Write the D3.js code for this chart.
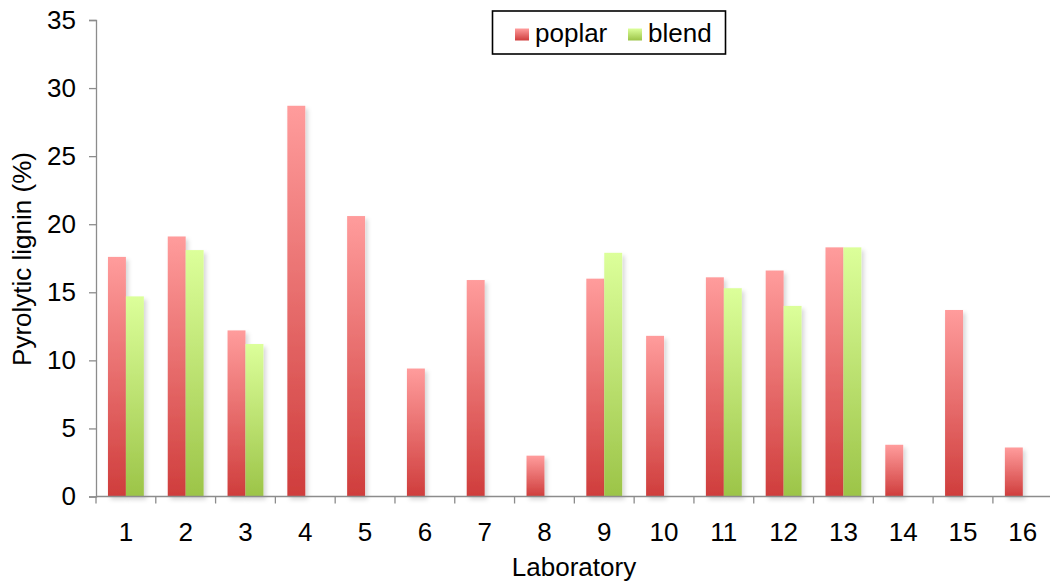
<!DOCTYPE html>
<html>
<head>
<meta charset="utf-8">
<script src="https://cdn.jsdelivr.net/npm/d3@7/dist/d3.min.js"></script>
<style>
  html, body { margin: 0; padding: 0; background: #fff; }
  svg { display: block; font-family: "Liberation Sans", Arial, sans-serif; }
</style>
</head>
<body>
<svg id="chart" width="1050" height="582"></svg>
<script>
// Laboratory results for pyrolytic lignin content (%)
const labs = ["1","2","3","4","5","6","7","8","9","10","11","12","13","14","15","16"];
const seriesNames = ["poplar", "blend"];
const poplar = [17.6, 19.1, 12.2, 28.7, 20.6, 9.4, 15.9, 3.0, 16.0, 11.8, 16.1, 16.6, 18.3, 3.8, 13.7, 3.6];
const blend  = [14.7, 18.1, 11.2, null, null, null, null, null, 17.9, null, 15.3, 14.0, 18.3, null, null, null];
const yTicks = [0, 5, 10, 15, 20, 25, 30, 35];

const svg = d3.select("#chart");
const axisColor = "#8c8c8c";
const fontSize = 26;

const x0 = d3.scaleBand().domain(labs).range([96, 1052.7]).paddingInner(0).paddingOuter(0);
const bw = x0.bandwidth();
const x1 = d3.scaleBand().domain(seriesNames).range([0.2 * bw, 0.8 * bw]);
const y = d3.scaleLinear().domain([0, 35]).range([496.5, 20]);

// gradients and soft shadow
const defs = svg.append("defs");
const grads = {
  poplar: ["#ff9c9c", "#cf3d3c"],
  blend:  ["#dcff9a", "#9cc448"]
};
Object.entries(grads).forEach(([k, c]) => {
  const g = defs.append("linearGradient").attr("id", "g-" + k)
    .attr("x1", 0).attr("y1", 0).attr("x2", 0).attr("y2", 1);
  g.append("stop").attr("offset", "0%").attr("stop-color", c[0]);
  g.append("stop").attr("offset", "100%").attr("stop-color", c[1]);
});
const f = defs.append("filter").attr("id", "shadow")
  .attr("x", "-50%").attr("y", "-10%").attr("width", "200%").attr("height", "130%");
f.append("feDropShadow").attr("dx", 2.5).attr("dy", 3).attr("stdDeviation", 2.2)
  .attr("flood-color", "#000").attr("flood-opacity", 0.16);

// bars
const rows = labs.map((lab, i) => ({ lab, poplar: poplar[i], blend: blend[i] }));
const groups = svg.append("g").selectAll("g").data(rows).join("g")
  .attr("transform", d => `translate(${x0(d.lab)},0)`);
groups.selectAll("rect")
  .data(d => seriesNames.filter(s => d[s] != null).map(s => ({ s, v: d[s] })))
  .join("rect")
  .attr("x", d => x1(d.s))
  .attr("width", x1.bandwidth())
  .attr("y", d => y(d.v))
  .attr("height", d => y(0) - y(d.v))
  .attr("fill", d => `url(#g-${d.s})`)
  .attr("filter", "url(#shadow)");

// y axis
const yAxis = svg.append("g").attr("transform", "translate(96,0)")
  .call(d3.axisLeft(y).tickValues(yTicks).tickSize(7).tickPadding(13).tickFormat(d3.format("d")));
yAxis.select(".domain").attr("stroke", axisColor).attr("stroke-width", 1.3);
yAxis.selectAll(".tick line").attr("stroke", axisColor).attr("stroke-width", 1.3);
yAxis.selectAll(".tick text").attr("font-size", fontSize).attr("fill", "#000")
  .attr("font-family", "'Liberation Sans', Arial, sans-serif");

// x axis: ticks sit between categories
const xAxis = svg.append("g").attr("transform", `translate(0,${y(0)})`);
xAxis.append("line").attr("x1", 96).attr("x2", 1052.7).attr("stroke", axisColor).attr("stroke-width", 1.3);
xAxis.selectAll("line.tk").data(labs.concat(["end"])).join("line").attr("class", "tk")
  .attr("x1", (d, i) => 96 + i * bw).attr("x2", (d, i) => 96 + i * bw)
  .attr("y1", 0).attr("y2", 7).attr("stroke", axisColor).attr("stroke-width", 1.3);
xAxis.selectAll("text").data(labs).join("text")
  .attr("x", d => x0(d) + bw / 2).attr("y", 44)
  .attr("text-anchor", "middle").attr("font-size", fontSize).attr("fill", "#000")
  .text(d => d);

// axis titles
svg.append("text").attr("x", 574).attr("y", 576).attr("text-anchor", "middle")
  .attr("font-size", fontSize).text("Laboratory");
svg.append("text").attr("transform", "translate(31,259) rotate(-90)")
  .attr("text-anchor", "middle").attr("font-size", fontSize).text("Pyrolytic lignin (%)");

// legend
const lg = svg.append("g");
lg.append("rect").attr("x", 492.5).attr("y", 11).attr("width", 233).attr("height", 43)
  .attr("fill", "#fff").attr("stroke", "#000").attr("stroke-width", 1.6);
const items = [{ s: "poplar", x: 515 }, { s: "blend", x: 628 }];
items.forEach(it => {
  lg.append("rect").attr("x", it.x).attr("y", 28.5).attr("width", 14).attr("height", 12)
    .attr("fill", `url(#g-${it.s})`);
  lg.append("text").attr("x", it.x + 20).attr("y", 42).attr("font-size", fontSize).text(it.s);
});
</script>
</body>
</html>
